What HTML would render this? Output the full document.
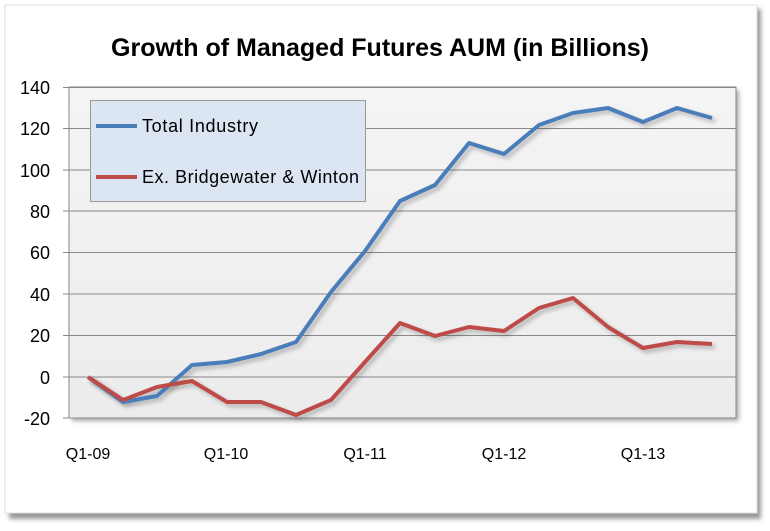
<!DOCTYPE html>
<html><head><meta charset="utf-8"><style>
body{margin:0;background:#fff;width:770px;height:526px;overflow:hidden;font-family:"Liberation Sans",sans-serif}
</style></head><body>
<svg width="770" height="526" xmlns="http://www.w3.org/2000/svg">
<defs>
<filter id="sh" x="-10%" y="-10%" width="130%" height="130%"><feGaussianBlur stdDeviation="2"/></filter>
<linearGradient id="pg" x1="0" y1="0" x2="0" y2="1"><stop offset="0" stop-color="#f4f4f4"/><stop offset="1" stop-color="#ececec"/></linearGradient>
</defs>
<rect x="9" y="9" width="752" height="510" fill="#999" filter="url(#sh)"/>
<rect x="5" y="5" width="752" height="508" fill="#fff" stroke="#ddd"/>
<text x="380" y="56" text-anchor="middle" font-size="25" font-weight="bold" fill="#000">Growth of Managed Futures AUM (in Billions)</text>
<rect x="72" y="90" width="667" height="331" fill="#aaa" filter="url(#sh)"/>
<rect x="69" y="87" width="667" height="331" fill="url(#pg)" stroke="#888"/>
<g stroke="#888" stroke-width="1">
<line x1="63" y1="87.5" x2="736" y2="87.5"/><line x1="63" y1="128.5" x2="736" y2="128.5"/>
<line x1="63" y1="170" x2="736" y2="170"/><line x1="63" y1="211" x2="736" y2="211"/>
<line x1="63" y1="252.5" x2="736" y2="252.5"/><line x1="63" y1="294" x2="736" y2="294"/>
<line x1="63" y1="335.5" x2="736" y2="335.5"/><line x1="63" y1="377" x2="736" y2="377"/>
<line x1="63" y1="418" x2="736" y2="418"/>
</g>
<g font-size="18" fill="#000" text-anchor="end">
<text x="50" y="94">140</text><text x="50" y="135">120</text><text x="50" y="177">100</text>
<text x="50" y="218">80</text><text x="50" y="259">60</text><text x="50" y="301">40</text>
<text x="50" y="342">20</text><text x="50" y="384">0</text><text x="50" y="425">-20</text>
</g>
<g font-size="16" fill="#000" text-anchor="middle">
<text x="88" y="459">Q1-09</text><text x="226" y="459">Q1-10</text><text x="365" y="459">Q1-11</text>
<text x="504" y="459">Q1-12</text><text x="643" y="459">Q1-13</text>
</g>
<g fill="none" stroke-width="4" stroke-linejoin="round">
<polyline points="88,377 123,402 157,396 192,365 227,362 261,354 296,342 331,292 365,251 400,201 435,185 469,143 504,154 539,125 573,113 608,108 643,122 677,108 712,118" stroke="#444" opacity="0.35" transform="translate(3,3)" filter="url(#sh)"/>
<polyline points="88,377 123,400 157,387 192,381 227,402 261,402 296,415 331,400 365,362 400,323 435,336 469,327 504,331 539,308 573,298 608,327 643,348 677,342 712,344" stroke="#444" opacity="0.35" transform="translate(3,3)" filter="url(#sh)"/>
<polyline points="88,377 123,402 157,396 192,365 227,362 261,354 296,342 331,292 365,251 400,201 435,185 469,143 504,154 539,125 573,113 608,108 643,122 677,108 712,118" stroke="#4a7ebb"/>
<polyline points="88,377 123,400 157,387 192,381 227,402 261,402 296,415 331,400 365,362 400,323 435,336 469,327 504,331 539,308 573,298 608,327 643,348 677,342 712,344" stroke="#be4b48"/>
</g>
<rect x="90.5" y="100.5" width="275" height="101" fill="#dce6f2" stroke="#999"/>
<line x1="96" y1="126" x2="137" y2="126" stroke="#4a7ebb" stroke-width="4"/>
<line x1="96" y1="177" x2="137" y2="177" stroke="#be4b48" stroke-width="4"/>
<text x="142" y="132" font-size="18" fill="#000" textLength="116">Total Industry</text>
<text x="142" y="183" font-size="18" fill="#000" textLength="217">Ex. Bridgewater &amp; Winton</text>
</svg>
</body></html>
